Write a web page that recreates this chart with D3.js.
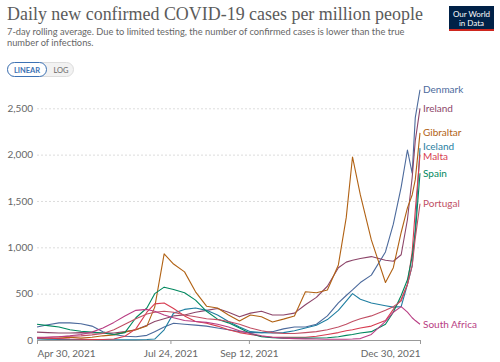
<!DOCTYPE html>
<html>
<head>
<meta charset="utf-8">
<script src="https://cdn.jsdelivr.net/npm/d3@7"></script>
<style>
  body { margin: 0; background: #fff; }
  svg { display: block; font-family: Lato, "Open Sans", sans-serif; }
</style>
</head>
<body>
<div id="chart"></div>
<script>
// dates of the sampled points (7-day rolling averages)
var dates = ["2021-04-30","2021-05-07","2021-05-14","2021-05-21","2021-05-28","2021-06-04","2021-06-11","2021-06-18","2021-06-25","2021-07-02","2021-07-09","2021-07-14","2021-07-20","2021-07-26","2021-08-02","2021-08-09","2021-08-16","2021-08-23","2021-08-30","2021-09-06","2021-09-13","2021-09-20","2021-09-27","2021-10-04","2021-10-11","2021-10-18","2021-10-25","2021-11-01","2021-11-08","2021-11-13","2021-11-17","2021-11-22","2021-11-29","2021-12-08","2021-12-13","2021-12-18","2021-12-22","2021-12-25","2021-12-27","2021-12-30"];

var countries = ["Denmark", "Ireland", "Gibraltar", "Iceland", "Malta", "Spain", "Portugal", "South Africa"];

var denmark = [140,165,185,185,175,150,90,60,40,35,50,90,140,180,170,160,150,130,110,90,80,80,90,120,140,140,170,260,400,480,540,620,700,950,1250,1650,2050,1800,2400,2700];
var ireland = [85,80,75,75,80,75,75,75,90,110,160,200,230,260,270,300,320,340,300,250,290,310,270,270,290,380,460,580,780,840,860,880,900,860,850,920,1300,1750,2150,2500];
var gibraltar = [20,10,20,30,20,30,45,55,85,110,150,355,930,820,735,520,365,345,270,205,270,250,195,225,260,520,510,540,810,1320,1975,1565,1080,620,780,1160,1425,1565,1730,2235];
var iceland = [10,8,5,5,5,5,3,3,3,3,5,10,110,290,330,345,320,270,200,140,90,80,75,80,100,130,160,220,320,420,500,440,400,370,355,360,600,800,1200,2070];
var malta = [25,20,15,10,8,5,5,10,40,120,300,390,400,340,260,200,180,150,110,80,60,40,30,30,30,30,40,60,80,100,110,130,150,210,330,440,600,950,1400,2000];
var spain = [170,155,140,110,95,85,75,60,80,240,345,500,570,545,510,430,310,225,185,130,70,35,25,20,20,20,22,25,35,50,60,75,90,170,300,480,650,900,1150,1800];
var portugal = [30,30,35,40,45,55,70,110,170,230,280,300,310,300,270,250,230,220,200,170,130,100,80,70,70,80,90,110,140,170,200,230,260,320,360,420,600,800,1100,1470];
var southAfrica = [20,30,35,45,60,85,130,190,260,320,330,310,270,240,210,200,190,170,140,100,70,45,30,20,15,12,10,8,8,8,10,15,60,200,300,360,300,240,210,170];

var colours = ["#4C6A9C", "#8C4569", "#B16214", "#1F7EA1", "#D73C50", "#00875E", "#C15065", "#B83D83"];

var yTicks = [0, 500, 1000, 1500, 2000, 2500];
var xTicks = ["2021-04-30", "2021-07-24", "2021-09-12", "2021-12-30"];

var width = 500, height = 362;
var margin = { left: 37, right: 80, top: 108.3, bottom: 22 };

var parseDate = d3.timeParse("%Y-%m-%d");
var fmtTick = d3.timeFormat("%b %-d, %Y");
var commas = d3.format(",");

var series = countries.map(function (name, i) {
    var vals = [denmark, ireland, gibraltar, iceland, malta, spain, portugal, southAfrica][i];
    return {
        name: name,
        colour: colours[i],
        values: dates.map(function (d, j) { return { date: parseDate(d), value: vals[j] }; })
    };
});

var svg = d3.select('#chart')
    .append('svg')
    .attr('width', width)
    .attr('height', height);

// header
var title = svg.append('text')
    .attr('x', 7)
    .attr('y', 20)
    .attr('fill', '#5b5b5b')
    .style('font-family', '"Liberation Serif", "DejaVu Serif", serif')
    .style('font-size', '19px')
    .text('Daily new confirmed COVID-19 cases per million people');

// stretch the title so it spans like the original
var tw = title.node().getComputedTextLength();
title.style('font-size', (19 * 416 / tw) + 'px');

var sub1 = svg.append('text')
    .attr('x', 7).attr('y', 35)
    .attr('fill', '#666')
    .style('font-size', '10px')
    .text('7-day rolling average. Due to limited testing, the number of confirmed cases is lower than the true');
var subSize = 10 * 398 / sub1.node().getComputedTextLength();
sub1.style('font-size', subSize + 'px');
svg.append('text')
    .attr('x', 7).attr('y', 46)
    .attr('fill', '#666')
    .style('font-size', subSize + 'px')
    .text('number of infections.');

// linear / log toggle
var toggle = svg.append('g').attr('transform', 'translate(7,62)');
toggle.append('rect')
    .attr('x', 0.5).attr('y', 0.5)
    .attr('width', 66).attr('height', 14)
    .attr('rx', 7)
    .attr('fill', '#f2f2f2')
    .attr('stroke', '#ddd');
toggle.append('rect')
    .attr('x', 0.5).attr('y', 0.5)
    .attr('width', 39).attr('height', 14)
    .attr('rx', 7)
    .attr('fill', '#fff')
    .attr('stroke', '#3d72b4');
toggle.append('text')
    .attr('x', 20).attr('y', 10.5)
    .attr('text-anchor', 'middle')
    .attr('fill', '#3d72b4')
    .style('font-size', '7.5px')
    .style('font-weight', 'bold')
    .text('LINEAR');
toggle.append('text')
    .attr('x', 54).attr('y', 10.5)
    .attr('text-anchor', 'middle')
    .attr('fill', '#666')
    .style('font-size', '7.5px')
    .text('LOG');

// logo
var logo = svg.append('g').attr('transform', 'translate(449,6)');
logo.append('rect').attr('width', 45).attr('height', 25).attr('fill', '#002147');
logo.append('rect').attr('y', 23).attr('width', 45).attr('height', 2).attr('fill', '#ce261e');
logo.append('text')
    .attr('x', 22.5).attr('y', 11)
    .attr('text-anchor', 'middle')
    .attr('fill', '#fff')
    .style('font-size', '8px')
    .text('Our World');
logo.append('text')
    .attr('x', 22.5).attr('y', 20)
    .attr('text-anchor', 'middle')
    .attr('fill', '#fff')
    .style('font-size', '8px')
    .text('in Data');

// scales
var x = d3.scaleTime()
    .domain([parseDate(dates[0]), parseDate(dates[dates.length - 1])])
    .range([margin.left, width - margin.right]);

var y = d3.scaleLinear()
    .domain([0, 2500])
    .range([height - margin.bottom, margin.top]);

// gridlines + y labels
var yAxis = svg.append('g')
    .attr('transform', 'translate(' + margin.left + ',0)')
    .call(d3.axisLeft(y)
        .tickValues(yTicks)
        .tickSize(-(width - margin.right - margin.left))
        .tickPadding(4)
        .tickFormat(commas));
yAxis.select('.domain').remove();
yAxis.selectAll('.tick line')
    .attr('stroke', '#ddd')
    .attr('stroke-dasharray', '2,2');
yAxis.selectAll('.tick text')
    .attr('fill', '#666')
    .style('font-size', '10px')
    .style('font-family', 'Lato, sans-serif');

// x axis
var xAxis = svg.append('g')
    .attr('transform', 'translate(0,' + (height - margin.bottom) + ')')
    .call(d3.axisBottom(x)
        .tickValues(xTicks.map(parseDate))
        .tickSize(4)
        .tickSizeOuter(0)
        .tickFormat(fmtTick));
xAxis.select('.domain').attr('stroke', '#999');
xAxis.selectAll('.tick line').attr('stroke', '#999');
xAxis.selectAll('.tick text')
    .attr('fill', '#666')
    .attr('dy', '0.95em')
    .style('font-size', '10px')
    .style('font-family', 'Lato, sans-serif');
// first and last labels sit inside the plot edges
xAxis.selectAll('.tick text')
    .attr('text-anchor', function (d, i) {
        if (i == 0) return 'start';
        if (i == xTicks.length - 1) return 'end';
        return 'middle';
    });

// lines
var line = d3.line()
    .x(d => x(d.date))
    .y(d => y(d.value));

svg.append('g')
    .selectAll('path')
    .data(series)
    .enter()
    .append('path')
    .attr('fill', 'none')
    .attr('stroke', d => d.colour)
    .attr('stroke-width', 1.1)
    .attr('stroke-linejoin', 'round')
    .attr('d', d => line(d.values));

// end labels, nudged apart so they don't overlap
var labels = series.map(function (s) {
    var last = s.values[s.values.length - 1];
    return { name: s.name, colour: s.colour, y: y(last.value) };
}).sort((a, b) => a.y - b.y);

var gap = 10.5;
for (var k = 0; k < 20; k++) {
    for (var i = 1; i < labels.length; i++) {
        var diff = labels[i].y - labels[i - 1].y;
        if (diff < gap) {
            var push = (gap - diff) / 2;
            labels[i].y += push;
            labels[i - 1].y -= push;
        }
    }
}

svg.append('g')
    .selectAll('text')
    .data(labels)
    .enter()
    .append('text')
    .attr('x', width - margin.right + 3)
    .attr('y', d => d.y)
    .attr('dy', '0.35em')
    .attr('fill', d => d.colour)
    .style('font-size', '10px')
    .text(d => d.name);
</script>
</body>
</html>
